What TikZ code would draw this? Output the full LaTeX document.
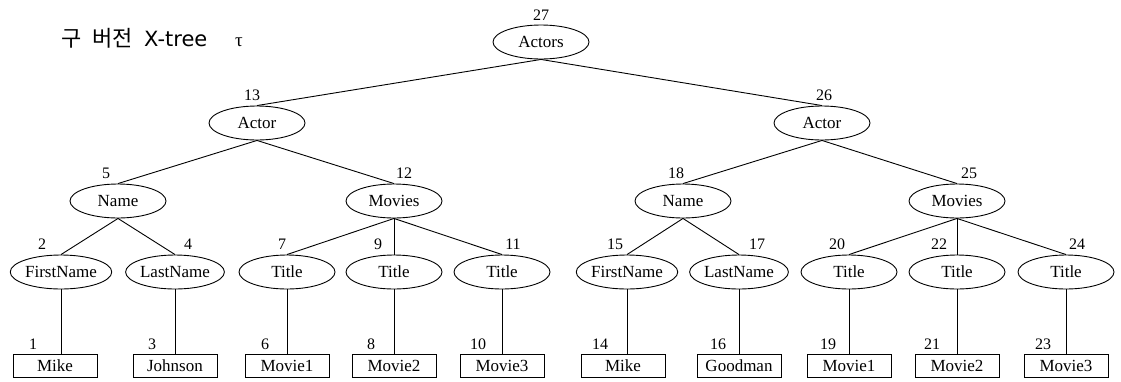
\documentclass[tikz,border=0pt]{standalone}
\usepackage{fontspec}
\setmainfont{Liberation Serif}
\newfontfamily\kr{Noto Sans CJK KR}
\newfontfamily\dejavu{DejaVu Sans}
\usetikzlibrary{shapes.geometric}
\tikzset{
  ell/.style={ellipse, draw, line width=0.9pt, inner xsep=0pt, inner ysep=0pt,
    minimum width=96pt, minimum height=34pt, font=\fontsize{17}{20}\selectfont},
  leafbox/.style={rectangle, draw, line width=0.9pt, minimum width=84pt,
    minimum height=23pt, inner sep=0pt, font=\fontsize{17}{20}\selectfont},
  num/.style={inner sep=0pt, font=\fontsize{16}{18}\selectfont},
  conn/.style={line width=0.9pt},
  ttl/.style={anchor=base west, inner sep=0pt}
}
\begin{document}
\begin{tikzpicture}[x=1pt,y=-1pt]
\useasboundingbox (0,0) rectangle (1121,381);
% title
\node[ttl, font=\kr\fontsize{22}{26}\selectfont] (tgu) at (61,46) {구};
\node[ttl, font=\kr\fontsize{22}{26}\selectfont] (tver) at (92,46) {버전};
\node[ttl, font=\dejavu\fontsize{21}{25}\selectfont] (tx) at (144,46) {X-tree};
\node[ttl, font=\fontsize{19}{21}\selectfont] (ttau) at (235,46) {τ};
% level 0
\node[ell] (actors) at (541,42) {Actors};
% level 1
\node[ell] (actorL) at (257,123) {Actor};
\node[ell] (actorR) at (822,123) {Actor};
% level 2
\node[ell] (nameL) at (118,201) {Name};
\node[ell] (moviesL) at (394,201) {Movies};
\node[ell] (nameR) at (683,201) {Name};
\node[ell] (moviesR) at (957,201) {Movies};
% level 3
\node[ell] (fn1) at (61,272) {FirstName};
\node[ell] (ln1) at (175,272) {LastName};
\node[ell] (t1) at (287,272) {Title};
\node[ell] (t2) at (394,272) {Title};
\node[ell] (t3) at (502,272) {Title};
\node[ell] (fn2) at (627,272) {FirstName};
\node[ell] (ln2) at (739,272) {LastName};
\node[ell] (t4) at (849,272) {Title};
\node[ell] (t5) at (957,272) {Title};
\node[ell] (t6) at (1066,272) {Title};
% leaves
\node[leafbox] (l1) at (55,365.5) {Mike};
\node[leafbox] (l3) at (175,365.5) {Johnson};
\node[leafbox] (l6) at (287,365.5) {Movie1};
\node[leafbox] (l8) at (394,365.5) {Movie2};
\node[leafbox] (l10) at (502,365.5) {Movie3};
\node[leafbox] (l14) at (623,365.5) {Mike};
\node[leafbox] (l16) at (739,365.5) {Goodman};
\node[leafbox] (l19) at (849,365.5) {Movie1};
\node[leafbox] (l21) at (957,365.5) {Movie2};
\node[leafbox] (l23) at (1066,365.5) {Movie3};
% connectors
\draw[conn] (actors.south) -- (actorL.north);
\draw[conn] (actors.south) -- (actorR.north);
\draw[conn] (actorL.south) -- (nameL.north);
\draw[conn] (actorL.south) -- (moviesL.north);
\draw[conn] (actorR.south) -- (nameR.north);
\draw[conn] (actorR.south) -- (moviesR.north);
\draw[conn] (nameL.south) -- (fn1.north);
\draw[conn] (nameL.south) -- (ln1.north);
\draw[conn] (moviesL.south) -- (t1.north);
\draw[conn] (moviesL.south) -- (t2.north);
\draw[conn] (moviesL.south) -- (t3.north);
\draw[conn] (nameR.south) -- (fn2.north);
\draw[conn] (nameR.south) -- (ln2.north);
\draw[conn] (moviesR.south) -- (t4.north);
\draw[conn] (moviesR.south) -- (t5.north);
\draw[conn] (moviesR.south) -- (t6.north);
\foreach \e/\l in {fn1/l1, ln1/l3, t1/l6, t2/l8, t3/l10, fn2/l14, ln2/l16, t4/l19, t5/l21, t6/l23}
  \draw[conn] (\e.south) -- (\e.south |- \l.north);
% number labels
\node[num] (n27) at (541,15) {27};
\node[num] (n13) at (252,95) {13};
\node[num] (n26) at (824,95) {26};
\node[num] (n5) at (106,173) {5};
\node[num] (n12) at (404,173) {12};
\node[num] (n18) at (676,173) {18};
\node[num] (n25) at (969,173) {25};
\node[num] (n2) at (42,244) {2};
\node[num] (n4) at (188,244) {4};
\node[num] (n7) at (282,244) {7};
\node[num] (n9) at (378,244) {9};
\node[num] (n11) at (513,244) {11};
\node[num] (n15) at (615,244) {15};
\node[num] (n17) at (757,244) {17};
\node[num] (n20) at (837,244) {20};
\node[num] (n22) at (939,244) {22};
\node[num] (n24) at (1077,244) {24};
\node[num] (n1) at (33,344) {1};
\node[num] (n3) at (152,344) {3};
\node[num] (n6) at (265,344) {6};
\node[num] (n8) at (371,344) {8};
\node[num] (n10) at (478,344) {10};
\node[num] (n14) at (600,344) {14};
\node[num] (n16) at (718,344) {16};
\node[num] (n19) at (828,344) {19};
\node[num] (n21) at (932,344) {21};
\node[num] (n23) at (1043,344) {23};
\end{tikzpicture}
\end{document}
